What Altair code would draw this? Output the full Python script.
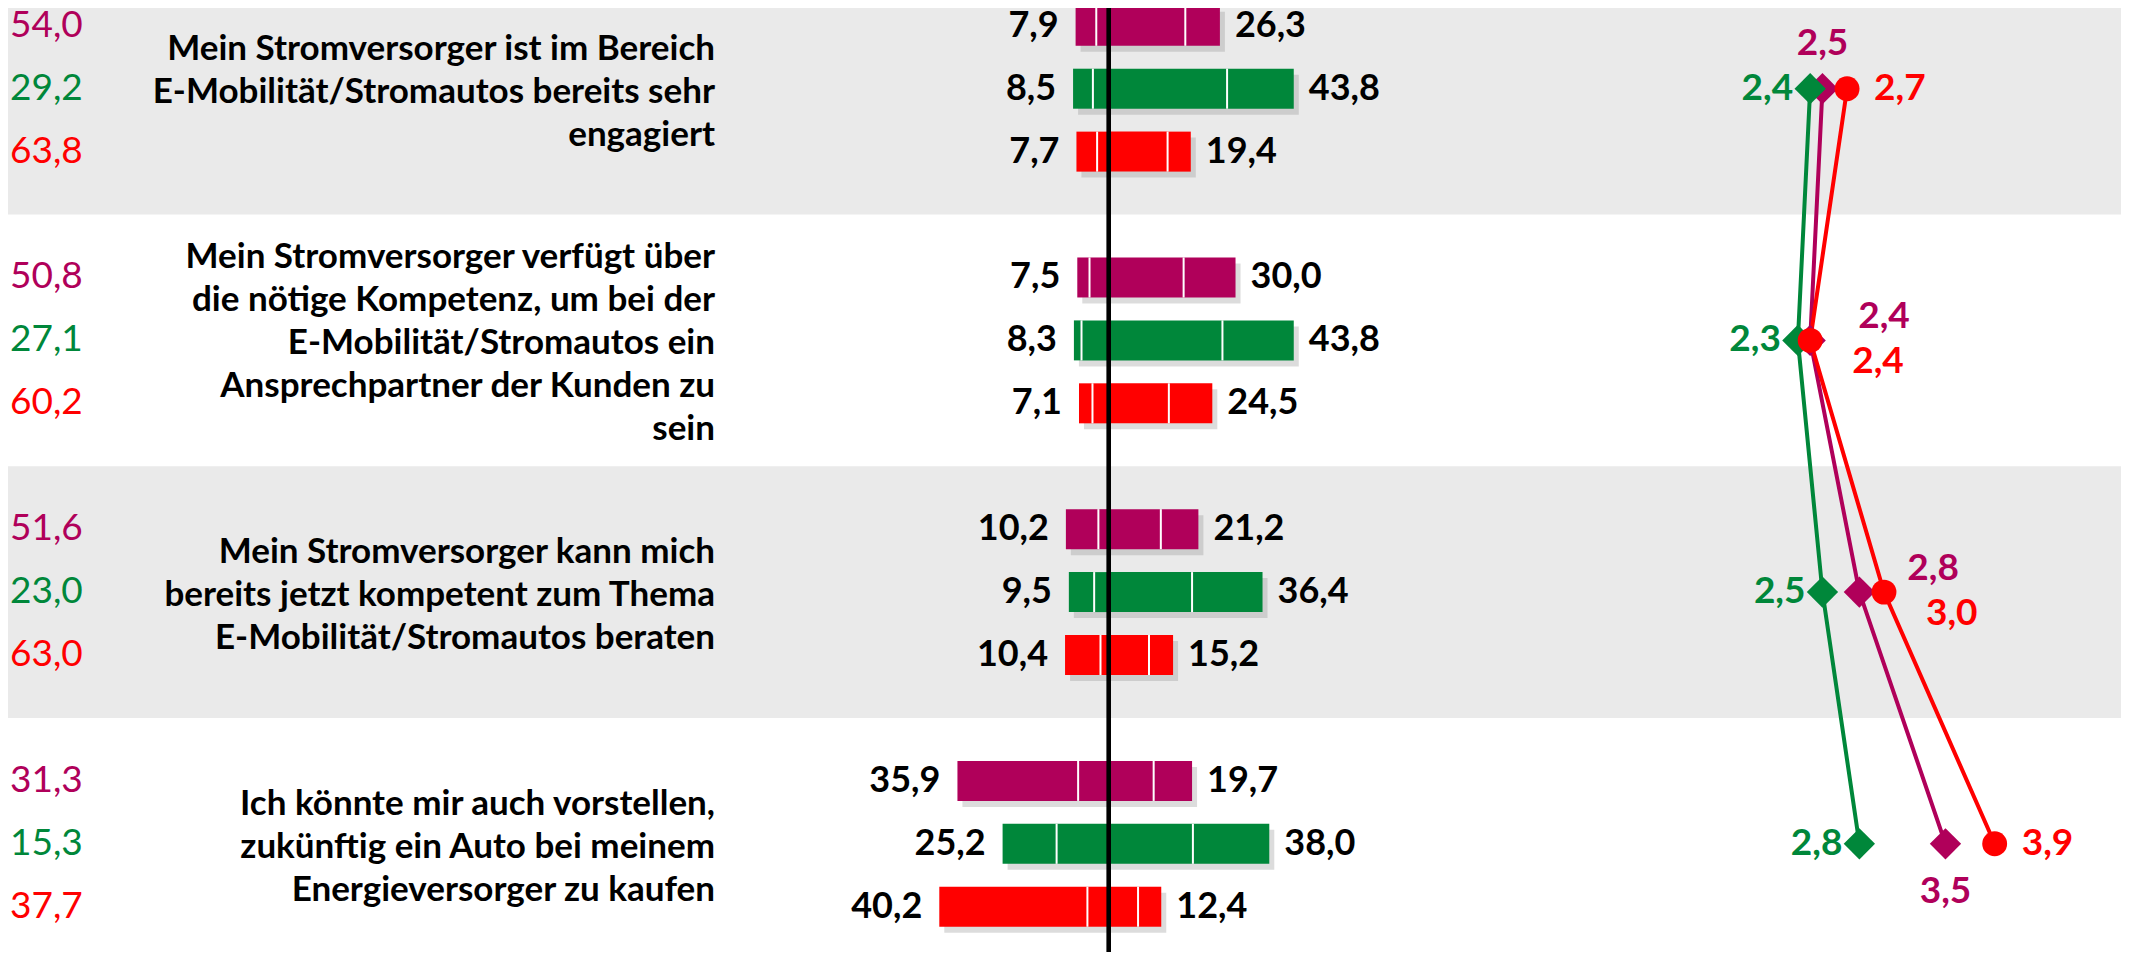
import altair as alt
import pandas as pd

# ---------------- data ----------------
statements = [
    "Mein Stromversorger ist im Bereich\nE-Mobilität/Stromautos bereits sehr\nengagiert",
    "Mein Stromversorger verfügt über\ndie nötige Kompetenz, um bei der\nE-Mobilität/Stromautos ein\nAnsprechpartner der Kunden zu\nsein",
    "Mein Stromversorger kann mich\nbereits jetzt kompetent zum Thema\nE-Mobilität/Stromautos beraten",
    "Ich könnte mir auch vorstellen,\nzukünftig ein Auto bei meinem\nEnergieversorger zu kaufen",
]
series_keys = ["lila", "gruen", "rot"]
series_colors = ["#B0005A", "#00873A", "#FF0000"]

# middle / neutral share (left column)
neutral = {
    "lila": [54.0, 50.8, 51.6, 31.3],
    "gruen": [29.2, 27.1, 23.0, 15.3],
    "rot": [63.8, 60.2, 63.0, 37.7],
}
# bar segments: outer negative, inner negative, inner positive, outer positive
neg_outer = {
    "lila": [4.9, 2.9, 7.7, 28.6],
    "gruen": [4.7, 1.8, 6.0, 12.8],
    "rot": [4.9, 3.2, 8.4, 35.1],
}
neg_inner = {
    "lila": [3.0, 4.6, 2.5, 7.3],
    "gruen": [3.8, 6.5, 3.5, 12.4],
    "rot": [2.8, 3.9, 2.0, 5.1],
}
pos_inner = {
    "lila": [18.1, 17.7, 12.3, 10.6],
    "gruen": [28.0, 26.9, 19.7, 19.9],
    "rot": [13.9, 14.2, 9.5, 6.9],
}
pos_outer = {
    "lila": [8.2, 12.3, 8.9, 9.1],
    "gruen": [15.8, 16.9, 16.7, 18.1],
    "rot": [5.5, 10.3, 5.7, 5.5],
}
# mean values (scale 1-5)
means = {
    "lila": [2.5, 2.4, 2.8, 3.5],
    "gruen": [2.4, 2.3, 2.5, 2.8],
    "rot": [2.7, 2.4, 3.0, 3.9],
}
mean_label_side = {
    "lila": ["above", "upper", "upper", "below"],
    "gruen": ["left", "left", "left", "left"],
    "rot": ["right", "lower", "lower", "right"],
}


def de(v):
    return f"{v:.1f}".replace(".", ",")


# ---------------- tables ----------------
seg_rows, bar_rows, div_rows, mean_rows = [], [], [], []
for g in range(len(statements)):
    for s, key in enumerate(series_keys):
        pos = 4 * g + s
        no, ni = neg_outer[key][g], neg_inner[key][g]
        pi, po = pos_inner[key][g], pos_outer[key][g]
        seg_rows += [
            dict(pos=pos, series=key, start=-(no + ni), end=-ni),
            dict(pos=pos, series=key, start=-ni, end=0),
            dict(pos=pos, series=key, start=0, end=pi),
            dict(pos=pos, series=key, start=pi, end=pi + po),
        ]
        div_rows += [dict(pos=pos, x=-ni), dict(pos=pos, x=pi)]
        neg_t, pos_t = round(no + ni, 1), round(pi + po, 1)
        bar_rows.append(dict(pos=pos, series=key, neg=-neg_t, postot=pos_t,
                             neg_label=de(neg_t), pos_label=de(pos_t),
                             neutral_label=de(neutral[key][g])))
        mean_rows.append(dict(pos=4 * g + 1, group=g, series=key, mean=means[key][g],
                              label=de(means[key][g]), side=mean_label_side[key][g]))

seg_df = pd.DataFrame(seg_rows)
bar_df = pd.DataFrame(bar_rows)
div_df = pd.DataFrame(div_rows)
mean_df = pd.DataFrame(mean_rows)
label_df = pd.DataFrame({
    "pos": [4 * g + 1 for g in range(len(statements))],
    "text": statements,
    "nlines": [t.count("\n") + 1 for t in statements],
})
band_df = pd.DataFrame({"y0": [4 * g - 1 for g in (0, 2)], "y1": [4 * g + 3 for g in (0, 2)]})

# ---------------- scales ----------------
W, H = 2120, 944
FONT = "Lato"
y_scale = alt.Scale(domain=[-0.203, 14.64], reverse=True, nice=False, zero=False)
bar_x = alt.Scale(domain=[-260.9, 241.5], nice=False, zero=False)
mean_x = alt.Scale(domain=[-12.252, 4.984], nice=False, zero=False)
color_scale = alt.Scale(domain=series_keys, range=series_colors)

Y = alt.Y("pos:Q", scale=y_scale, axis=None)
COLOR = alt.Color("series:N", scale=color_scale, legend=None)

bands = alt.Chart(band_df).mark_rect(color="#EAEAEA").encode(
    x=alt.value(0), x2=alt.value(2113),
    y=alt.Y("y0:Q", scale=y_scale, axis=None), y2="y1:Q",
)

shadow = alt.Chart(bar_df).mark_bar(
    color="#8c8c8c", opacity=0.3, xOffset=5, x2Offset=5, yOffset=6, y2Offset=6
).encode(
    x=alt.X("neg:Q", scale=bar_x, axis=None), x2="postot:Q", y=Y, size=alt.value(40)
)

segments = alt.Chart(seg_df).mark_bar(opacity=1).encode(
    x=alt.X("start:Q", scale=bar_x, axis=None), x2="end:Q", y=Y, color=COLOR,
    size=alt.value(40),
)

dividers = alt.Chart(div_df).mark_tick(color="white", thickness=2, orient="vertical", opacity=1).encode(
    x=alt.X("x:Q", scale=bar_x, axis=None), y=Y, size=alt.value(40)
)

zero_line = alt.Chart(bar_df).mark_rule(color="black", strokeWidth=4).encode(
    x=alt.X(datum=0, scale=bar_x, axis=None)
)

txt = dict(font=FONT, fontWeight="bold", fontSize=36, baseline="middle")
left_lab = alt.Chart(bar_df).mark_text(align="right", dx=-17, color="black", **txt).encode(
    x=alt.X("neg:Q", scale=bar_x, axis=None), y=Y, text="neg_label:N"
)
right_lab = alt.Chart(bar_df).mark_text(align="left", dx=15, color="black", **txt).encode(
    x=alt.X("postot:Q", scale=bar_x, axis=None), y=Y, text="pos_label:N"
)

neutral_lab = alt.Chart(bar_df).mark_text(
    align="left", baseline="middle", font=FONT, fontSize=37
).encode(x=alt.value(2), y=Y, text="neutral_label:N", color=COLOR)

LH = 43
row_labs = [
    alt.Chart(label_df).transform_filter(alt.datum.nlines == n).mark_text(
        align="right", baseline="middle", font=FONT, fontSize=35, fontWeight="bold",
        lineBreak="\n", lineHeight=LH, color="black", dy=-(n - 1) * LH / 2 + 3
    ).encode(x=alt.value(707), y=Y, text="text:N")
    for n in sorted(set(label_df["nlines"]))
]

MX = alt.X("mean:Q", scale=mean_x, axis=None)
lines = alt.Chart(mean_df).mark_line(strokeWidth=4).encode(
    x=MX, y=Y, color=COLOR, detail="series:N", order="group:Q"
)
diamonds = alt.Chart(mean_df).transform_filter(
    alt.datum.series != "rot"
).mark_point(shape="diamond", filled=True, opacity=1, size=980).encode(x=MX, y=Y, color=COLOR)
circles = alt.Chart(mean_df).transform_filter(
    alt.datum.series == "rot"
).mark_point(shape="circle", filled=True, opacity=1, size=620).encode(x=MX, y=Y, color=COLOR)

placements = {
    "left": dict(align="right", dx=-17, dy=0),
    "right": dict(align="left", dx=27, dy=0),
    "above": dict(align="center", dx=0, dy=-45),
    "below": dict(align="center", dx=0, dy=48),
    "upper": dict(align="left", dx=48, dy=-23),
    "lower": dict(align="left", dx=42, dy=22),
}
mean_labels = [
    alt.Chart(mean_df).transform_filter(alt.datum.side == side).mark_text(
        font=FONT, fontWeight="bold", fontSize=37, baseline="middle", **p
    ).encode(x=MX, y=Y, text="label:N", color=COLOR)
    for side, p in placements.items()
]

chart = alt.layer(
    bands, shadow, segments, dividers, zero_line, left_lab, right_lab,
    neutral_lab, *row_labs, lines, diamonds, circles, *mean_labels
).resolve_scale(x="independent", y="shared").properties(
    width=W, height=H, padding=0,
    autosize=alt.AutoSizeParams(type="none"),
    background="white",
).configure_view(stroke=None)

chart.save("out.html", embed_options={"renderer": "svg", "actions": False})
